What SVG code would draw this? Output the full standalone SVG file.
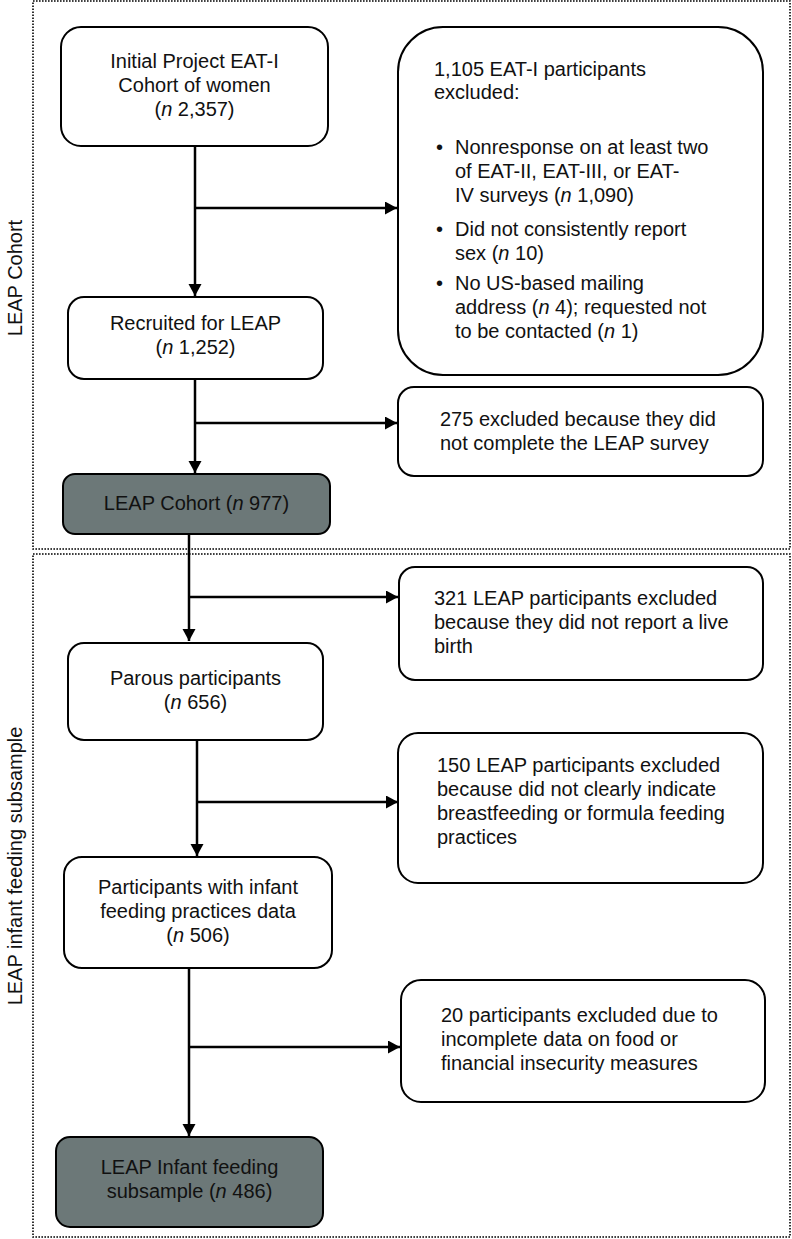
<svg xmlns="http://www.w3.org/2000/svg" width="792" height="1239" viewBox="0 0 792 1239">
<style>
.t{font-family:"Liberation Sans",Arial,sans-serif;font-size:20px;fill:#111}
.c{text-anchor:middle}
.box{fill:#fff;stroke:#000;stroke-width:2}
.dark{fill:#6c7878;stroke:#000;stroke-width:2}
.sec{fill:none;stroke:#000;stroke-width:1.6;stroke-dasharray:1.6 1.4}
.ln{fill:none;stroke:#000;stroke-width:2.5}
</style>
<defs>
<marker id="ah" markerUnits="userSpaceOnUse" markerWidth="14" markerHeight="14" refX="12" refY="6.5" orient="auto">
<path d="M0,0 L12,6.5 L0,13 z" fill="#000"/>
</marker>
</defs>
<rect width="792" height="1239" fill="#fff"/>
<g id="sections">
<rect class="sec" x="33" y="1" width="757" height="548"/>
<rect class="sec" x="33" y="554" width="757" height="683"/>
<text class="t c" transform="translate(22,278) rotate(-90)">LEAP Cohort</text>
<text class="t c" transform="translate(22,866) rotate(-90)">LEAP infant feeding subsample</text>
</g>
<g id="connectors">
<line class="ln" x1="195" y1="146" x2="195" y2="296" marker-end="url(#ah)"/>
<line class="ln" x1="195" y1="208" x2="397" y2="208" marker-end="url(#ah)"/>
<line class="ln" x1="195" y1="379" x2="195" y2="473" marker-end="url(#ah)"/>
<line class="ln" x1="195" y1="423" x2="397" y2="423" marker-end="url(#ah)"/>
<line class="ln" x1="189" y1="534" x2="189" y2="641" marker-end="url(#ah)"/>
<line class="ln" x1="189" y1="597" x2="398" y2="597" marker-end="url(#ah)"/>
<line class="ln" x1="197" y1="740" x2="197" y2="856" marker-end="url(#ah)"/>
<line class="ln" x1="197" y1="802" x2="398" y2="802" marker-end="url(#ah)"/>
<line class="ln" x1="189" y1="968" x2="189" y2="1136" marker-end="url(#ah)"/>
<line class="ln" x1="189" y1="1047" x2="400" y2="1047" marker-end="url(#ah)"/>
</g>
<g id="n1">
<rect class="box" x="61" y="27" width="267" height="119" rx="20"/>
<text class="t c" x="194.5" y="68">Initial Project EAT-I</text>
<text class="t c" x="194.5" y="92">Cohort of women</text>
<text class="t c" x="194.5" y="116">(<tspan font-style="italic">n</tspan> 2,357)</text>
</g>
<g id="n2">
<rect class="box" x="68" y="297" width="255" height="82" rx="16"/>
<text class="t c" x="195.5" y="330">Recruited for LEAP</text>
<text class="t c" x="195.5" y="354">(<tspan font-style="italic">n</tspan> 1,252)</text>
</g>
<g id="n3">
<rect class="dark" x="63" y="474" width="267" height="60" rx="12"/>
<text class="t c" x="196.5" y="510">LEAP Cohort (<tspan font-style="italic">n</tspan> 977)</text>
</g>
<g id="e1">
<rect class="box" x="398" y="27" width="365" height="348" rx="45"/>
<text class="t" x="434" y="76">1,105 EAT-I participants</text>
<text class="t" x="434" y="99">excluded:</text>
<text class="t" x="436" y="154">•</text>
<text class="t" x="455" y="154">Nonresponse on at least two</text>
<text class="t" x="455" y="178">of EAT-II, EAT-III, or EAT-</text>
<text class="t" x="455" y="202">IV surveys (<tspan font-style="italic">n</tspan> 1,090)</text>
<text class="t" x="436" y="236">•</text>
<text class="t" x="455" y="236">Did not consistently report</text>
<text class="t" x="455" y="260">sex (<tspan font-style="italic">n</tspan> 10)</text>
<text class="t" x="436" y="290">•</text>
<text class="t" x="455" y="290">No US-based mailing</text>
<text class="t" x="455" y="314">address (<tspan font-style="italic">n</tspan> 4); requested not</text>
<text class="t" x="455" y="338">to be contacted (<tspan font-style="italic">n</tspan> 1)</text>
</g>
<g id="e2">
<rect class="box" x="398" y="387" width="365" height="89" rx="16"/>
<text class="t" x="440" y="426">275 excluded because they did</text>
<text class="t" x="440" y="450">not complete the LEAP survey</text>
</g>
<g id="n4">
<rect class="box" x="68" y="643" width="255" height="97" rx="16"/>
<text class="t c" x="195.5" y="685">Parous participants</text>
<text class="t c" x="195.5" y="709">(<tspan font-style="italic">n</tspan> 656)</text>
</g>
<g id="e3">
<rect class="box" x="399" y="567" width="364" height="113" rx="16"/>
<text class="t" x="434" y="605">321 LEAP participants excluded</text>
<text class="t" x="434" y="629">because they did not report a live</text>
<text class="t" x="434" y="653">birth</text>
</g>
<g id="e4">
<rect class="box" x="398" y="733" width="365" height="150" rx="20"/>
<text class="t" x="437" y="772">150 LEAP participants excluded</text>
<text class="t" x="437" y="796">because did not clearly indicate</text>
<text class="t" x="437" y="820">breastfeeding or formula feeding</text>
<text class="t" x="437" y="844">practices</text>
</g>
<g id="n5">
<rect class="box" x="64" y="857" width="268" height="111" rx="18"/>
<text class="t c" x="198" y="894">Participants with infant</text>
<text class="t c" x="198" y="918">feeding practices data</text>
<text class="t c" x="198" y="942">(<tspan font-style="italic">n</tspan> 506)</text>
</g>
<g id="e5">
<rect class="box" x="401" y="980" width="364" height="122" rx="20"/>
<text class="t" x="441" y="1022">20 participants excluded due to</text>
<text class="t" x="441" y="1046">incomplete data on food or</text>
<text class="t" x="441" y="1070">financial insecurity measures</text>
</g>
<g id="n6">
<rect class="dark" x="56" y="1137" width="267" height="90" rx="14"/>
<text class="t c" x="189.5" y="1174">LEAP Infant feeding</text>
<text class="t c" x="189.5" y="1198">subsample (<tspan font-style="italic">n</tspan> 486)</text>
</g>
</svg>
